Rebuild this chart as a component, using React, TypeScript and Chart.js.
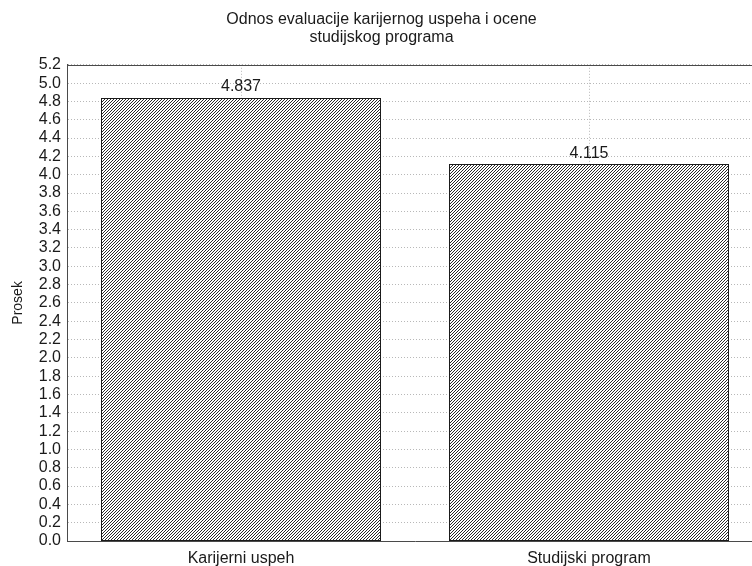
import { useEffect, useRef } from "react";
import { Chart, registerables } from "chart.js";

Chart.register(...registerables);

const categories = ["Karijerni uspeh", "Studijski program"];
const values = [4.837, 4.115];
const valueLabels = ["4.837", "4.115"];
const titleLines = ["Odnos evaluacije karijernog uspeha i ocene", "studijskog programa"];
const yAxisTitle = "Prosek";
const yMin = 0;
const yMax = 5.2;
const yStep = 0.2;

const FONT = "'Liberation Sans', Arial, sans-serif";
const CANVAS_W = 772;
const CANVAS_H = 566;

function makeHatch(): CanvasPattern | string {
  const s = 3;
  const c = document.createElement("canvas");
  c.width = s;
  c.height = s;
  const g = c.getContext("2d");
  if (!g) return "#888";
  g.fillStyle = "#ffffff";
  g.fillRect(0, 0, s, s);
  g.strokeStyle = "#111111";
  g.lineWidth = 0.9;
  g.beginPath();
  g.moveTo(-1, s + 1);
  g.lineTo(s + 1, -1);
  g.moveTo(-1, 1);
  g.lineTo(1, -1);
  g.moveTo(s - 1, s + 1);
  g.lineTo(s + 1, s - 1);
  g.stroke();
  const p = g.createPattern(c, "repeat");
  return p || "#888";
}

const barOutlinePlugin = {
  id: "barOutline",
  afterDatasetsDraw(chart: any) {
    const ctx = chart.ctx;
    const meta = chart.getDatasetMeta(0);
    ctx.save();
    ctx.strokeStyle = "#1a1a1a";
    ctx.lineWidth = 1;
    meta.data.forEach((bar: any) => {
      const l = Math.round(bar.x - bar.width / 2) + 0.5;
      const r = Math.round(bar.x + bar.width / 2) - 0.5;
      const t = Math.round(bar.y) + 0.5;
      const b = Math.round(bar.base) - 0.5;
      ctx.strokeRect(l, t, r - l, b - t);
    });
    ctx.restore();
  },
};

const valueLabelPlugin = {
  id: "valueLabels",
  afterDatasetsDraw(chart: any) {
    const ctx = chart.ctx;
    const meta = chart.getDatasetMeta(0);
    ctx.save();
    ctx.font = `16px ${FONT}`;
    ctx.fillStyle = "#1a1a1a";
    ctx.textAlign = "center";
    ctx.textBaseline = "bottom";
    meta.data.forEach((bar: any, i: number) => {
      ctx.fillText(valueLabels[i], bar.x, bar.y - 3);
    });
    ctx.restore();
  },
};

const frameTopPlugin = {
  id: "frameTop",
  afterDraw(chart: any) {
    const { ctx, chartArea } = chart;
    ctx.save();
    ctx.strokeStyle = "#4a4a4a";
    ctx.lineWidth = 1;
    ctx.beginPath();
    ctx.moveTo(chartArea.left, Math.round(chartArea.top) + 0.5);
    ctx.lineTo(chartArea.right, Math.round(chartArea.top) + 0.5);
    ctx.stroke();
    ctx.restore();
  },
};

export default function App() {
  const ref = useRef<HTMLCanvasElement | null>(null);

  useEffect(() => {
    if (!ref.current) return;
    const hatch = makeHatch();
    const chart = new Chart(ref.current, {
      type: "bar",
      data: {
        labels: categories,
        datasets: [
          {
            data: values,
            backgroundColor: hatch as any,
            borderWidth: 0,
            categoryPercentage: 1,
            barPercentage: 0.803,
          },
        ],
      },
      options: {
        responsive: false,
        animation: false,
        devicePixelRatio: 1,
        layout: { padding: { left: 0, right: CANVAS_W - 763, top: 0, bottom: 0 } },
        plugins: {
          legend: { display: false },
          tooltip: { enabled: false },
          title: {
            display: true,
            text: titleLines,
            color: "#1a1a1a",
            font: { family: FONT, size: 16, weight: "normal", lineHeight: 1.15 },
            padding: { top: 10, bottom: 18 },
          },
        },
        scales: {
          x: {
            grid: {
              offset: false,
              color: "#b8b8b8",
              drawTicks: false,
            },
            border: { display: true, color: "#4a4a4a", dash: [1, 2] },
            ticks: {
              color: "#1a1a1a",
              font: { family: FONT, size: 16 },
              padding: 8,
              maxRotation: 0,
            },
            afterFit(scale: any) {
              scale.height = CANVAS_H - 541;
            },
          },
          y: {
            min: yMin,
            max: yMax,
            grid: {
              color: "#b8b8b8",
              drawTicks: false,
            },
            border: { display: true, color: "#4a4a4a", dash: [1, 2] },
            ticks: {
              stepSize: yStep,
              autoSkip: false,
              color: "#1a1a1a",
              font: { family: FONT, size: 16 },
              padding: 6,
              callback: (v: any) => Number(v).toFixed(1),
            },
            title: {
              display: true,
              text: yAxisTitle,
              color: "#1a1a1a",
              font: { family: FONT, size: 14 },
              padding: { top: 10, bottom: 0 },
            },
            afterFit(scale: any) {
              scale.width = 67;
            },
          },
        },
      },
      plugins: [barOutlinePlugin, valueLabelPlugin, frameTopPlugin],
    });
    return () => chart.destroy();
  }, []);

  return (
    <div
      style={{
        position: "fixed",
        left: 0,
        top: 0,
        width: 752,
        height: CANVAS_H,
        overflow: "hidden",
        background: "#ffffff",
      }}
    >
      <canvas
        ref={ref}
        width={CANVAS_W}
        height={CANVAS_H}
        style={{ width: CANVAS_W, height: CANVAS_H, display: "block" }}
      />
    </div>
  );
}
